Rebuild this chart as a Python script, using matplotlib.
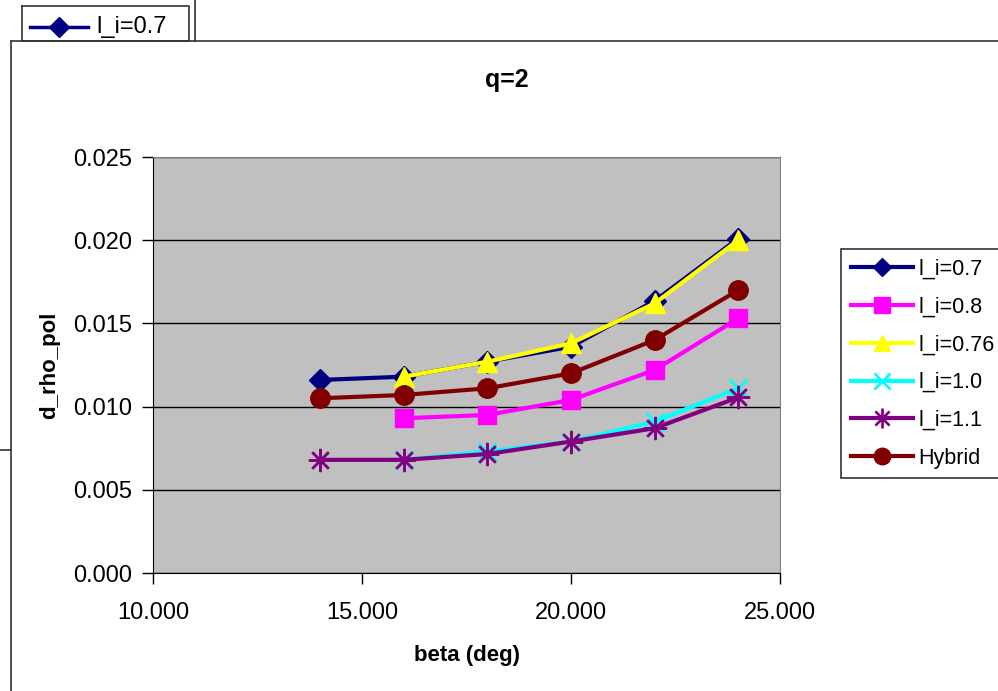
import matplotlib.pyplot as plt
from matplotlib.lines import Line2D

plt.rcParams['font.family'] = ['Liberation Sans', 'DejaVu Sans']

# Data
beta = [14, 16, 18, 20, 22, 24]
li_07 = [0.0116, 0.0118, 0.0127, 0.0136, 0.01635, 0.0201]
li_08 = [None, 0.0093, 0.0095, 0.0104, 0.0122, 0.0153]
li_076 = [None, 0.0118, 0.0127, 0.0138, 0.0162, 0.0200]
li_10 = [None, 0.0068, 0.0073, 0.0079, 0.0091, 0.0111]
li_11 = [0.0068, 0.0068, 0.00715, 0.0079, 0.0087, 0.01055]
hybrid = [0.0105, 0.0107, 0.0111, 0.0120, 0.0140, 0.0170]

series = [
    ("l_i=0.7", li_07, "#000080", "D", 11),
    ("l_i=0.8", li_08, "#ff00ff", "s", 13),
    ("l_i=0.76", li_076, "#ffff00", "^", 14),
    ("l_i=1.0", li_10, "#00ffff", "x", 13),
    ("l_i=1.1", li_11, "#800080", "$\u2733$", 16),
    ("Hybrid", hybrid, "#800000", "o", 14),
]

W, H = 998, 691
fig = plt.figure(figsize=(W / 100, H / 100), dpi=100)


def fx(px):
    return px / W


def fy(py):
    return 1 - py / H


# Leftover pieces of the chart behind
lines = [
    ([22, 189, 189, 22, 22], [6, 6, 41, 41, 6]),
    ([195, 195], [0, 41]),
    ([0, 11], [450, 450]),
    ([11, 11], [41, 691]),
    ([11, 998], [41, 41]),
]
for xs, ys in lines:
    fig.add_artist(Line2D([fx(x) for x in xs], [fy(y) for y in ys],
                          color="#333333", lw=1.2))
fig.add_artist(Line2D([fx(30), fx(88)], [fy(27), fy(27)], color="#000080", lw=2.5))
fig.add_artist(Line2D([fx(59)], [fy(27)], color="#000080", marker="D", ms=10, lw=0))
fig.text(fx(96), fy(27), "l_i=0.7", fontsize=17, va="center", ha="left")

# Main plot area
ax = fig.add_axes([fx(153), fy(573), fx(780) - fx(153), fy(157) - fy(573)])
ax.set_facecolor("#c0c0c0")

for label, vals, color, marker, ms in series:
    xs = [b for b, v in zip(beta, vals) if v is not None]
    ys = [v for v in vals if v is not None]
    kw = dict(color=color, lw=3, marker=marker, ms=ms, label=label)
    if marker == "x":
        kw["mew"] = 2
    ax.plot(xs, ys, **kw)

ax.set_xlim(10, 25)
ax.set_ylim(0, 0.025)
ax.set_xticks([10, 15, 20, 25])
ax.set_yticks([0, 0.005, 0.010, 0.015, 0.020, 0.025])
ax.set_xticklabels(["10.000", "15.000", "20.000", "25.000"])
ax.set_yticklabels(["0.000", "0.005", "0.010", "0.015", "0.020", "0.025"])
ax.tick_params(labelsize=17, length=8, width=1, direction="out")
ax.tick_params(axis="x", pad=13)
ax.tick_params(axis="y", pad=7)
ax.yaxis.grid(True, color="black", lw=1)
ax.set_axisbelow(True)
for s in ax.spines.values():
    s.set_color("#808080")
ax.spines["left"].set_color("black")
ax.spines["bottom"].set_color("black")

fig.text(fx(507), fy(80), "q=2", fontsize=18, fontweight="bold", ha="center", va="center")
fig.text(fx(50), fy(365), "d_rho_pol", fontsize=16, fontweight="bold",
         rotation=90, ha="center", va="center")
fig.text(fx(467), fy(655), "beta (deg)", fontsize=16, fontweight="bold",
         ha="center", va="center")

leg = ax.legend(loc="upper left", bbox_to_anchor=(fx(841), fy(249)),
                bbox_transform=fig.transFigure, fontsize=15.5, frameon=True,
                fancybox=False, edgecolor="black", handlelength=2.9,
                labelspacing=0.78, borderpad=0.45, handletextpad=0.25,
                borderaxespad=0, markerscale=0.85)
leg.get_frame().set_linewidth(1.2)

fig.savefig("out.png", dpi=100)
